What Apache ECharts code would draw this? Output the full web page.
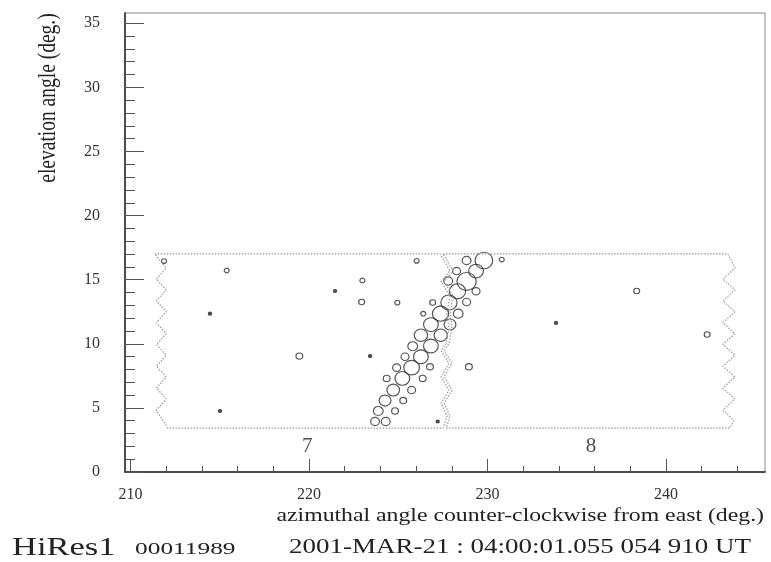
<!DOCTYPE html>
<html>
<head>
<meta charset="utf-8">
<script src="https://cdn.jsdelivr.net/npm/echarts@6/dist/echarts.min.js"></script>
<style>
  html, body { margin: 0; padding: 0; background: #fff; }
  #main { width: 771px; height: 562px; }
</style>
</head>
<body>
<div id="main"></div>
<script>
// Tube hits: azimuth (deg), elevation (deg), relative pulse height
const tubeAz = [
  211.88, 215.39, 214.45, 222.99, 221.46, 222.95, 224.95, 226.03, 219.46, 223.42,
  215.01, 227.21, 238.36, 233.84, 242.31, 230.80, 228.96, 224.35, 225.28, 224.82,
  226.37, 225.75, 226.78, 226.40, 226.93, 227.80, 228.27, 228.83, 228.36, 228.83,
  229.36, 227.90, 227.38,
  223.70, 224.30, 223.88, 224.26, 224.72, 225.23, 224.91, 225.75, 225.38, 226.27,
  225.81, 226.83, 226.27, 226.83, 227.37, 227.84, 228.32, 228.83, 229.36, 229.80
];
const tubeEl = [
  16.45, 15.72, 12.35, 14.94, 14.12, 13.26, 13.21, 16.47, 9.04, 9.04,
  4.76, 3.94, 14.12, 11.63, 10.72, 16.57, 8.21, 7.30, 5.57, 4.76,
  7.30, 6.39, 8.21, 12.35, 13.22, 14.90, 15.67, 16.50, 12.35, 13.26,
  14.09, 11.50, 10.67,
  3.94, 3.94, 4.76, 5.57, 6.39, 7.30, 8.14, 8.14, 8.99, 8.99,
  9.81, 9.83, 10.67, 11.50, 12.35, 13.22, 14.09, 14.86, 15.67, 16.50
];
const tubeSignal = [
  1.7, 1.7, 1.1, 1.7, 1.1, 2.0, 1.7, 1.7, 2.3, 1.1,
  1.1, 1.1, 2.0, 1.1, 2.0, 1.7, 2.3, 2.3, 2.3, 2.3,
  2.3, 2.7, 2.3, 1.7, 2.0, 3.0, 2.7, 3.0, 3.3, 2.7,
  2.7, 4.0, 4.5,
  3.0, 3.0, 3.3, 4.0, 4.3, 5.0, 2.7, 5.3, 2.7, 5.0,
  3.3, 5.0, 4.5, 5.0, 5.5, 5.5, 5.5, 6.5, 5.0, 6.0
];

// Field-of-view outline of mirror 7 (closed polygon, az/el in degrees)
const mirror7Az = [
  211.35, 227.34, 227.90, 227.40, 227.90, 227.73, 227.84, 227.68, 227.40, 227.84,
  227.40, 227.84, 227.40, 227.73, 227.51, 212.10, 211.45, 212.00, 211.45, 212.00,
  211.45, 212.00, 211.45, 212.00, 211.45, 212.00, 211.45, 212.00, 211.45, 212.00,
  211.35
];
const mirror7El = [
  17.02, 17.02, 15.70, 14.84, 13.75, 12.35, 11.19, 10.02, 9.48, 8.47,
  7.46, 6.37, 5.36, 4.35, 3.42, 3.42, 4.80, 5.70, 6.55, 7.40,
  8.25, 9.10, 9.95, 10.80, 11.65, 12.50, 13.35, 14.20, 15.05, 15.90,
  17.02
];
// Field-of-view outline of mirror 8
const mirror8Az = [
  227.51, 243.47, 243.87, 243.19, 243.87, 243.19, 243.87, 243.19, 243.87, 243.19,
  243.87, 243.19, 243.87, 243.19, 243.87, 243.19, 243.80, 243.58, 227.68, 227.90,
  227.57, 228.01, 227.57, 228.01, 227.57, 227.85, 228.01, 227.90, 228.07, 227.57,
  228.07, 227.51
];
const mirror8El = [
  17.02, 17.02, 15.90, 15.05, 14.20, 13.35, 12.50, 11.65, 10.80, 9.95,
  9.10, 8.25, 7.40, 6.55, 5.70, 4.85, 4.00, 3.42, 3.42, 4.35,
  5.36, 6.37, 7.46, 8.47, 9.48, 10.02, 11.19, 12.35, 13.75, 14.84,
  15.70, 17.02
];

// Mirror numbers written under each field of view
const mirrorNames = ['7', '8'];
const mirrorLabelAz = [219.9, 235.8];
const mirrorLabelEl = [2.0, 2.0];

// Axis ranges and ticks
const xRange = [209.69, 245.55];
const yRange = [0, 35.8];
const xMajorTicks = [210, 220, 230, 240];
const xMinorTicks = [212, 214, 216, 218, 222, 224, 226, 228, 232, 234, 236, 238, 242, 244];
const yMajorTicks = [0, 5, 10, 15, 20, 25, 30, 35];
const yMinorTicks = [1, 2, 3, 4, 6, 7, 8, 9, 11, 12, 13, 14, 16, 17, 18, 19,
  21, 22, 23, 24, 26, 27, 28, 29, 31, 32, 33, 34];

const serif = '"Liberation Serif", "Times New Roman", serif';
const ink = '#222';

const hits = tubeAz.map((a, i) => [a, tubeEl[i], tubeSignal[i]]);
const outline = (az, el) => az.map((a, i) => [a, el[i]]);
const labels = mirrorNames.map((n, i) => ({ name: n, value: [mirrorLabelAz[i], mirrorLabelEl[i]] }));

function xAxisDef(ticks, len, showLabel) {
  return {
    type: 'value', min: xRange[0], max: xRange[1], position: 'bottom',
    splitLine: { show: false },
    axisLine: { show: true, onZero: false, lineStyle: { color: '#444', width: 1.5 } },
    axisTick: { show: true, inside: true, length: len, customValues: ticks, lineStyle: { color: '#555' } },
    axisLabel: {
      show: showLabel, customValues: ticks, margin: 15,
      fontFamily: serif, fontSize: 16, color: '#333'
    }
  };
}
function yAxisDef(ticks, len, showLabel) {
  return {
    type: 'value', min: yRange[0], max: yRange[1], position: 'left',
    splitLine: { show: false },
    axisLine: { show: true, onZero: false, lineStyle: { color: '#444', width: 1.5 } },
    axisTick: { show: true, inside: true, length: len, customValues: ticks, lineStyle: { color: '#555' } },
    axisLabel: {
      show: showLabel, customValues: ticks, margin: 25,
      fontFamily: serif, fontSize: 16, color: '#333'
    }
  };
}

const chart = echarts.init(document.getElementById('main'), null, { renderer: 'canvas' });
chart.setOption({
  animation: false,
  backgroundColor: '#fff',
  grid: {
    left: 125, right: 6, top: 13, bottom: 90,
    show: true, borderColor: '#888', borderWidth: 1, backgroundColor: 'transparent'
  },
  xAxis: [xAxisDef(xMajorTicks, 13, true), xAxisDef(xMinorTicks, 6, false)],
  yAxis: [yAxisDef(yMajorTicks, 19, true), yAxisDef(yMinorTicks, 10, false)],
  series: [
    {
      type: 'line', data: outline(mirror7Az, mirror7El), showSymbol: false, symbol: 'none',
      lineStyle: { type: [1.5, 1.5], color: '#999', width: 1.2 }, silent: true
    },
    {
      type: 'line', data: outline(mirror8Az, mirror8El), showSymbol: false, symbol: 'none',
      lineStyle: { type: [1.5, 1.5], color: '#999', width: 1.2 }, silent: true
    },
    {
      type: 'scatter', data: hits,
      symbol: 'circle',
      symbolSize: v => [2.95 * v[2], 2.75 * v[2]],
      itemStyle: {
        // the faintest hits render as solid dots
        color: p => (p.value[2] < 1.5 ? '#333' : 'rgba(0,0,0,0)'),
        borderColor: '#2a2a2a', borderWidth: 1.15
      }
    },
    {
      type: 'scatter', data: labels, symbolSize: 0,
      label: {
        show: true, position: 'inside', formatter: p => p.name,
        fontFamily: serif, fontSize: 21, color: ink
      }
    }
  ],
  graphic: [
    {
      type: 'text', x: 48, y: 98, rotation: Math.PI / 2, scaleY: 1.3,
      style: {
        text: 'elevation angle (deg.)', fontFamily: serif, fontSize: 19.5,
        fill: ink, align: 'center', verticalAlign: 'middle'
      }
    },
    {
      type: 'text', x: 764, y: 516, scaleX: 1.25,
      style: {
        text: 'azimuthal angle counter-clockwise from east (deg.)', fontFamily: serif,
        fontSize: 19, fill: ink, align: 'right', verticalAlign: 'middle'
      }
    },
    {
      type: 'text', x: 12, y: 548, scaleX: 1.38,
      style: { text: 'HiRes1', fontFamily: serif, fontSize: 25, fill: ink, align: 'left', verticalAlign: 'middle' }
    },
    {
      type: 'text', x: 135, y: 549, scaleX: 1.45,
      style: { text: '00011989', fontFamily: serif, fontSize: 17.5, fill: ink, align: 'left', verticalAlign: 'middle' }
    },
    {
      type: 'text', x: 289, y: 548, scaleX: 1.35,
      style: { text: '2001-MAR-21 : 04:00:01.055 054 910 UT', fontFamily: serif, fontSize: 20, fill: ink, align: 'left', verticalAlign: 'middle' }
    }
  ]
});
</script>
</body>
</html>
